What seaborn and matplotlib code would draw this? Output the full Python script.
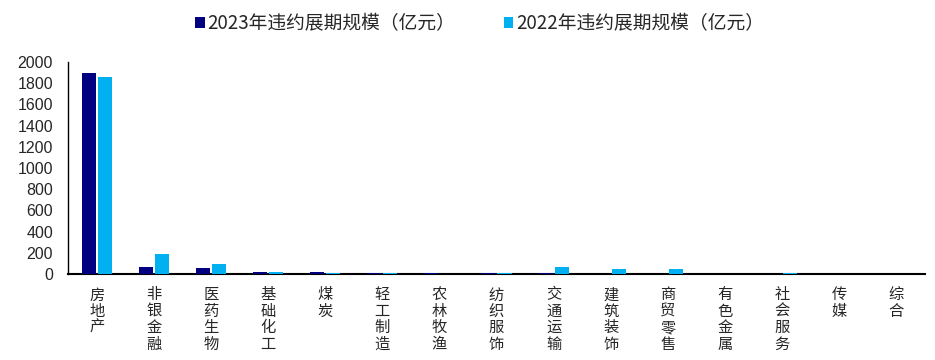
import numpy as np
import pandas as pd
import matplotlib
matplotlib.use("Agg")
import matplotlib.pyplot as plt
import seaborn as sns
from matplotlib.patches import Patch

industries = ["房地产", "非银金融", "医药生物", "基础化工", "煤炭", "轻工制造", "农林牧渔",
              "纺织服饰", "交通运输", "建筑装饰", "商贸零售", "有色金属", "社会服务", "传媒", "综合"]
vals_2023 = [1900, 66, 53, 22, 20, 12, 12, 12, 10, 2, 1, 1, 1, 0, 0]
vals_2022 = [1860, 190, 97, 20, 12, 5, 1, 10, 62, 50, 47, 1, 10, 0, 0]
series_names = ["2023年违约展期规模（亿元）", "2022年违约展期规模（亿元）"]
colors = ["#000080", "#00B0F0"]

df = pd.DataFrame({
    "行业": industries * 2,
    "规模": vals_2023 + vals_2022,
    "年份": [series_names[0]] * len(industries) + [series_names[1]] * len(industries),
})

sns.set_theme(style="white")
plt.rcParams["font.family"] = ["Noto Sans CJK SC", "DejaVu Sans"]

fig = plt.figure(figsize=(9.35, 3.6), dpi=100)
ax = fig.add_axes([0.073, 0.239, 0.916, 0.589])

sns.barplot(data=df, x="行业", y="规模", hue="年份", palette=colors,
            width=0.56, gap=0.12, ax=ax, legend=False, saturation=1)
for p in ax.patches:
    p.set_linewidth(0)
    p.set_zorder(3)

ax.set_ylim(0, 2000)
ax.set_xlim(-0.5, len(industries) - 0.5)
ax.set_yticks(np.arange(0, 2001, 200))
ax.set_yticklabels([str(v) for v in range(0, 2001, 200)],
                   family=["Liberation Sans", "DejaVu Sans"], fontsize=11.5)
ax.set_xticks(range(len(industries)))
ax.set_xticklabels(["\n".join(s) for s in industries], fontsize=11,
                   linespacing=0.95, va="top")
ax.set_xticks(np.arange(-0.5, len(industries), 1.0), minor=True)
ax.tick_params(axis="x", which="major", length=0, pad=9)
ax.tick_params(axis="x", which="minor", length=5, width=1.2, direction="out", color="black")
ax.tick_params(axis="y", length=4, width=1, direction="out", color="black", pad=7)
ax.set_xlabel("")
ax.set_ylabel("")
for side in ["top", "right"]:
    ax.spines[side].set_visible(False)
ax.spines["left"].set_color("black")
ax.spines["left"].set_linewidth(1)
ax.spines["bottom"].set_color("black")
ax.spines["bottom"].set_linewidth(1.5)

handles = [Patch(facecolor=c, edgecolor="none") for c in colors]
fig.legend(handles, series_names, loc="upper center", bbox_to_anchor=(0.513, 1.01),
           ncol=2, frameon=False, fontsize=13.5, handlelength=0.5, handleheight=0.55,
           handletextpad=0.15, columnspacing=2.6)

fig.savefig("out.png", dpi=100)
